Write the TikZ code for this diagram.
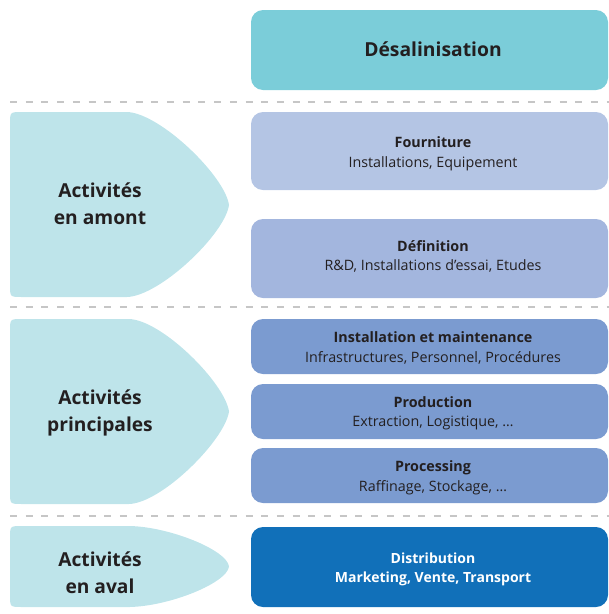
\documentclass[tikz,border=0pt]{standalone}
\usepackage{fontspec}
\setmainfont{Open Sans}
\definecolor{cdesal}{HTML}{7BCDD9}
\definecolor{cfourn}{HTML}{B4C5E4}
\definecolor{cdefin}{HTML}{A3B6DE}
\definecolor{cmid}{HTML}{7B9BD0}
\definecolor{cdist}{HTML}{1170B9}
\definecolor{cleft}{HTML}{BEE4EA}
\definecolor{ctext}{HTML}{231F20}
\definecolor{csep}{HTML}{C6C6C6}
\begin{document}
\begin{tikzpicture}[x=1pt,y=-1pt,
  box/.style={rounded corners=12pt, inner sep=0pt, minimum width=357pt},
  boxtext/.style={text=ctext, align=center, inner sep=0pt, font=\fontsize{14.3}{19.5}\selectfont},
  lefttext/.style={text=ctext, align=center, font=\fontsize{19.2}{27}\selectfont\bfseries},
  sepline/.style={draw=csep, line width=1.4pt, dash pattern=on 7pt off 8.7pt}]
\useasboundingbox (0,0) rectangle (609,614);
% separators
\draw[sepline] (10,102) -- (609,102);
\draw[sepline] (10,307) -- (609,307);
\draw[sepline] (10,516) -- (609,516);
% left shapes
\fill[cleft] (22,112) -- (127,112) .. controls (160,113) and (225,176) .. (229,205) .. controls (225,234) and (160,296) .. (127,297) -- (22,297) .. controls (10,297) .. (10,285) -- (10,124) .. controls (10,112) .. (22,112) -- cycle;
\fill[cleft] (22,319) -- (129,319) .. controls (162,320) and (225,383) .. (229,411.5) .. controls (225,440) and (162,503) .. (129,504) -- (22,504) .. controls (10,504) .. (10,492) -- (10,331) .. controls (10,319) .. (22,319) -- cycle;
\fill[cleft] (22,526) -- (130,526) .. controls (170,527) and (227,550) .. (229,566.5) .. controls (227,583) and (170,606) .. (130,607) -- (22,607) .. controls (10,607) .. (10,595) -- (10,538) .. controls (10,526) .. (22,526) -- cycle;
\node[lefttext] (amont) at (100,204) {Activités\\en amont};
\node[lefttext] (princ) at (100,412.5) {Activités\\principales};
\node[lefttext] (aval) at (100,573) {Activités\\en aval};
% right boxes
\node[box, fill=cdesal, minimum height=80pt] (desal) at (429.5,50) {};
\node[box, fill=cfourn, minimum height=78pt] (fourn) at (429.5,151) {};
\node[box, fill=cdefin, minimum height=79pt] (defin) at (429.5,258.5) {};
\node[box, fill=cmid, minimum height=55pt] (inst) at (429.5,346.5) {};
\node[box, fill=cmid, minimum height=55pt] (prod) at (429.5,411.5) {};
\node[box, fill=cmid, minimum height=55pt] (proc) at (429.5,475.5) {};
\node[box, fill=cdist, minimum height=80pt] (dist) at (429.5,567) {};
% box texts
\node[boxtext, font=\fontsize{19.3}{24}\selectfont\bfseries] (tdesal) at (433,49) {Désalinisation};
\node[boxtext] (tfourn) at (433,154) {\textbf{Fourniture}\\Installations, Equipement};
\node[boxtext] (tdefin) at (433,256.5) {\textbf{Définition}\\R\&D, Installations d’essai, Etudes};
\node[boxtext] (tinst) at (433,348) {\textbf{Installation et maintenance}\\Infrastructures, Personnel, Procédures};
\node[boxtext] (tprod) at (433,413.5) {\textbf{Production}\\Extraction, Logistique, …};
\node[boxtext] (tproc) at (433,478) {\textbf{Processing}\\Raffinage, Stockage, …};
\node[boxtext, text=white, font=\fontsize{14}{19.5}\selectfont\bfseries] (tdist) at (433,569.5) {Distribution\\Marketing, Vente, Transport};
\end{tikzpicture}
\end{document}
